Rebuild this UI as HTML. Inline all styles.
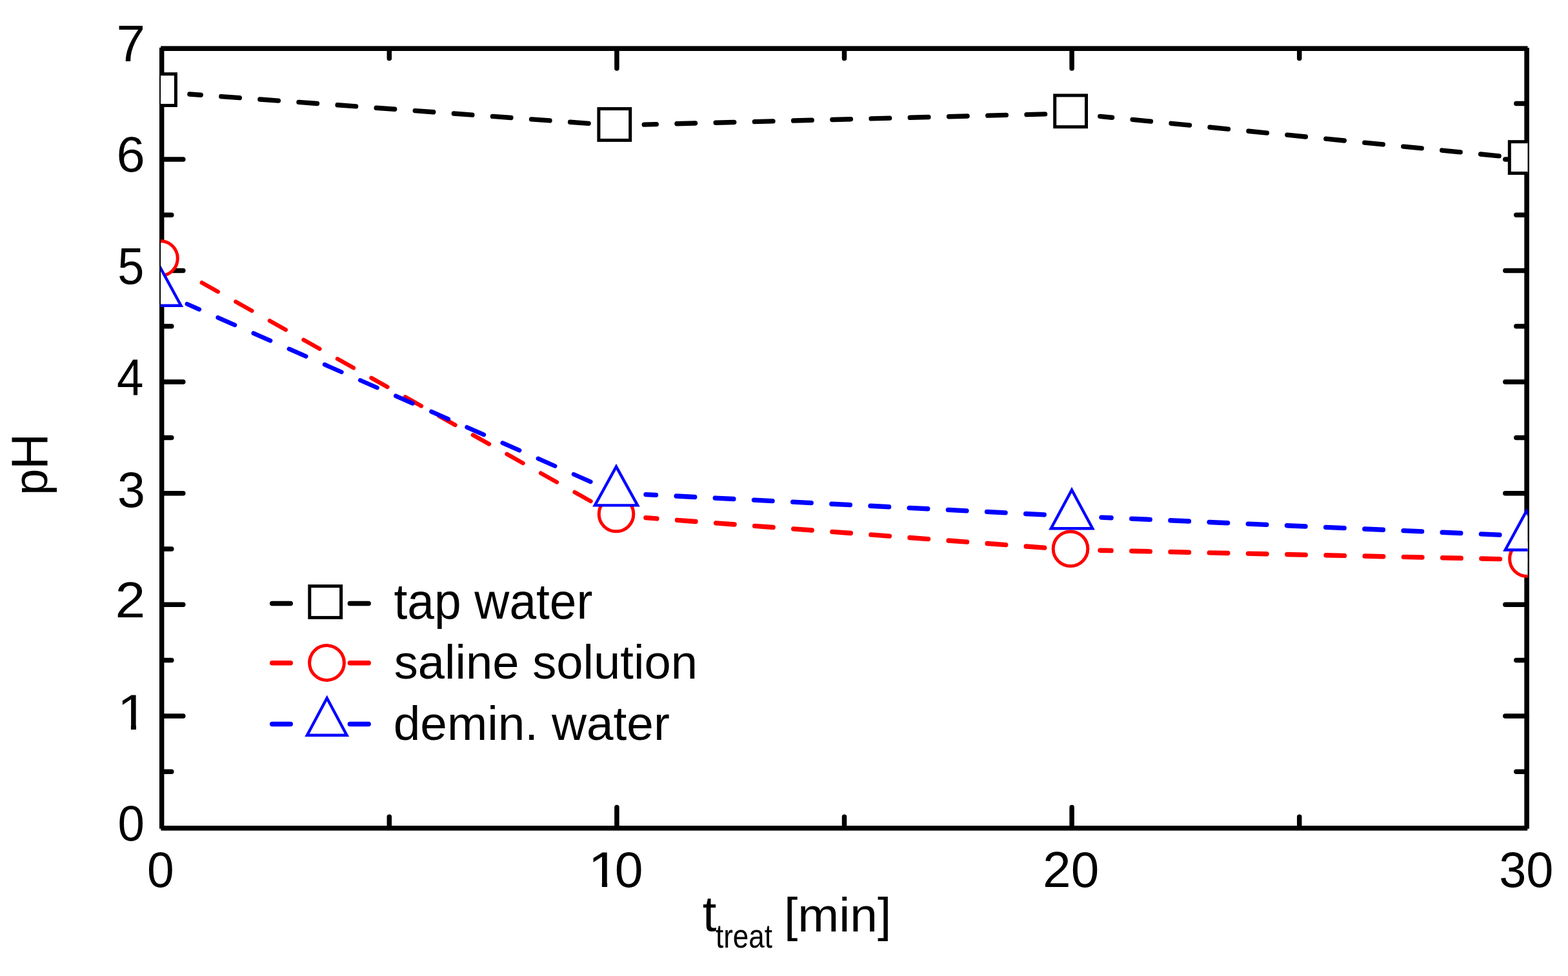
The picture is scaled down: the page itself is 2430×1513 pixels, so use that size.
<!DOCTYPE html><html><head><meta charset="utf-8"><title>pH vs treatment time</title><style>html,body{margin:0;padding:0;background:#fff;}svg{display:block;}text{font-family:"Liberation Sans", Arial, sans-serif;}</style></head><body>
<svg width="2430" height="1513" viewBox="0 0 2430 1513">
<rect x="0" y="0" width="2430" height="1513" fill="#fff"/>
<defs><clipPath id="pc"><rect x="249" y="73" width="2118.5" height="1213"/></clipPath></defs>
<g fill="#000">
<rect x="247" y="73.8" width="7.4" height="1210.9"/>
<rect x="2362.3" y="74" width="7.6" height="1210.7"/>
<rect x="249.2" y="71.4" width="2118.3" height="7.6"/>
<rect x="249.4" y="1280" width="2117.8" height="7.6"/>
</g>
<g stroke="#000" stroke-width="7.5" stroke-linecap="round"><line x1="252.00" y1="1196.20" x2="265.80" y2="1196.20"/><line x1="2366.00" y1="1196.20" x2="2349.80" y2="1196.20"/><line x1="252.00" y1="1109.90" x2="283.80" y2="1109.90"/><line x1="2366.00" y1="1109.90" x2="2332.80" y2="1109.90"/><line x1="252.00" y1="1023.60" x2="265.80" y2="1023.60"/><line x1="2366.00" y1="1023.60" x2="2349.80" y2="1023.60"/><line x1="252.00" y1="937.30" x2="283.80" y2="937.30"/><line x1="2366.00" y1="937.30" x2="2332.80" y2="937.30"/><line x1="252.00" y1="851.00" x2="265.80" y2="851.00"/><line x1="2366.00" y1="851.00" x2="2349.80" y2="851.00"/><line x1="252.00" y1="764.70" x2="283.80" y2="764.70"/><line x1="2366.00" y1="764.70" x2="2332.80" y2="764.70"/><line x1="252.00" y1="678.40" x2="265.80" y2="678.40"/><line x1="2366.00" y1="678.40" x2="2349.80" y2="678.40"/><line x1="252.00" y1="592.10" x2="283.80" y2="592.10"/><line x1="2366.00" y1="592.10" x2="2332.80" y2="592.10"/><line x1="252.00" y1="505.80" x2="265.80" y2="505.80"/><line x1="2366.00" y1="505.80" x2="2349.80" y2="505.80"/><line x1="252.00" y1="419.50" x2="283.80" y2="419.50"/><line x1="2366.00" y1="419.50" x2="2332.80" y2="419.50"/><line x1="252.00" y1="333.20" x2="265.80" y2="333.20"/><line x1="2366.00" y1="333.20" x2="2349.80" y2="333.20"/><line x1="252.00" y1="246.90" x2="283.80" y2="246.90"/><line x1="2366.00" y1="246.90" x2="2332.80" y2="246.90"/><line x1="252.00" y1="160.60" x2="265.80" y2="160.60"/><line x1="2366.00" y1="160.60" x2="2349.80" y2="160.60"/><line x1="603.30" y1="1282.00" x2="603.30" y2="1266.20"/><line x1="603.30" y1="77.00" x2="603.30" y2="90.60"/><line x1="955.90" y1="1282.00" x2="955.90" y2="1251.50"/><line x1="955.90" y1="77.00" x2="955.90" y2="106.00"/><line x1="1308.50" y1="1282.00" x2="1308.50" y2="1266.20"/><line x1="1308.50" y1="77.00" x2="1308.50" y2="90.60"/><line x1="1661.10" y1="1282.00" x2="1661.10" y2="1251.50"/><line x1="1661.10" y1="77.00" x2="1661.10" y2="106.00"/><line x1="2013.70" y1="1282.00" x2="2013.70" y2="1266.20"/><line x1="2013.70" y1="77.00" x2="2013.70" y2="90.60"/></g>
<g fill="#000">
<text transform="matrix(0.9944 0 0 1.0327 182.42 1302.90)" font-size="75">0</text>
<g transform="matrix(1.1328 0 0 1.0446 181.83 1131.40)"><clipPath id="c1_y1"><rect x="-20" y="-58.59" width="47.61" height="51.82"/><rect x="18.60" y="-7.32" width="7.14" height="12.32"/></clipPath><text clip-path="url(#c1_y1)" font-size="75">1</text></g>
<text transform="matrix(1.1206 0 0 1.0288 178.52 956.90)" font-size="75">2</text>
<text transform="matrix(1.0286 0 0 1.0308 182.01 785.70)" font-size="75">3</text>
<text transform="matrix(0.9947 0 0 1.0529 181.01 611.60)" font-size="75">4</text>
<text transform="matrix(0.9861 0 0 1.0569 182.34 439.80)" font-size="75">5</text>
<text transform="matrix(1.0588 0 0 1.0308 180.56 265.80)" font-size="75">6</text>
<text transform="matrix(1.0676 0 0 1.0549 180.43 94.60)" font-size="75">7</text>
<text transform="matrix(1.0000 0 0 1.0385 227.90 1375.00)" font-size="75">0</text>
<text transform="matrix(1.0447 0 0 1.0365 1616.12 1374.90)" font-size="75">20</text>
<text transform="matrix(1.0091 0 0 1.0365 2323.17 1374.90)" font-size="75">30</text>
<g transform="matrix(1.1547 0 0 1.0446 911.37 1374.90)"><clipPath id="c1_x10a"><rect x="-20" y="-58.59" width="47.61" height="51.82"/><rect x="18.60" y="-7.32" width="7.14" height="12.32"/></clipPath><text clip-path="url(#c1_x10a)" font-size="75">1</text></g>
<text transform="matrix(1.0500 0 0 1.0365 952.85 1374.90)" font-size="75">0</text>
<text transform="translate(73.40 767.71) rotate(-90) scale(0.9824 1.0000)" font-size="75">p</text>
<text transform="translate(73.00 727.70) rotate(-90) scale(1.0333 1.0588)" font-size="75">H</text>
<text transform="matrix(1.0368 0 0 1.0479 1088.66 1443.20)" font-size="75">t</text>
<text transform="matrix(0.9764 0 0 1.1483 1109.02 1469.30)" font-size="45">treat</text>
<text transform="matrix(1.0237 0 0 0.9942 1214.98 1443.89)" font-size="75">[min]</text>
<text transform="matrix(0.9984 0 0 1.0444 610.50 959.03)" font-size="75">tap water</text>
<text transform="matrix(0.9895 0 0 0.9963 610.72 1052.00)" font-size="75">saline solution</text>
<text transform="matrix(0.9972 0 0 0.9852 609.71 1146.50)" font-size="75">demin. water</text>
</g>
<g clip-path="url(#pc)" fill="none" stroke-width="7.5" stroke-linecap="round"><line x1="293.88" y1="145.97" x2="952.30" y2="194.30" stroke="#000" stroke-width="7.38" stroke-dasharray="28.6 31.65" stroke-dashoffset="11.20"/><line x1="998.28" y1="193.10" x2="1659.00" y2="175.80" stroke="#000" stroke-width="7.40" stroke-dasharray="28.6 31.65" stroke-dashoffset="9.60"/><line x1="1704.77" y1="180.35" x2="2364.00" y2="245.90" stroke="#000" stroke-width="7.36" stroke-dasharray="28.6 31.65" stroke-dashoffset="9.70"/><line x1="288.60" y1="424.54" x2="955.00" y2="799.20" stroke="#f00" stroke-width="6.45" stroke-dasharray="28.6 31.65" stroke-dashoffset="32.40"/><line x1="1000.87" y1="802.65" x2="1659.00" y2="852.20" stroke="#f00" stroke-width="7.38" stroke-dasharray="28.6 31.65" stroke-dashoffset="11.50"/><line x1="1704.99" y1="853.20" x2="2366.00" y2="867.50" stroke="#f00" stroke-width="7.40" stroke-dasharray="28.6 31.65" stroke-dashoffset="11.50"/><line x1="289.90" y1="471.25" x2="955.00" y2="764.30" stroke="#00f" stroke-width="6.77" stroke-dasharray="28.6 31.65" stroke-dashoffset="8.00"/><line x1="1000.94" y1="766.63" x2="1661.00" y2="800.10" stroke="#00f" stroke-width="7.39" stroke-dasharray="28.6 31.65" stroke-dashoffset="13.00"/><line x1="1706.96" y1="802.12" x2="2365.50" y2="831.00" stroke="#00f" stroke-width="7.39" stroke-dasharray="28.6 31.65" stroke-dashoffset="13.50"/></g>
<g clip-path="url(#pc)"><rect x="223.60" y="114.70" width="48.80" height="48.80" fill="#fff" stroke="#000" stroke-width="5.0"/><rect x="927.90" y="168.60" width="48.80" height="48.80" fill="#fff" stroke="#000" stroke-width="5.0"/><rect x="1634.70" y="147.90" width="48.80" height="48.80" fill="#fff" stroke="#000" stroke-width="5.0"/><rect x="2339.30" y="219.70" width="48.80" height="48.80" fill="#fff" stroke="#000" stroke-width="5.0"/><circle cx="248.50" cy="400.50" r="26.80" fill="#fff" stroke="#f00" stroke-width="5.0"/><circle cx="955.00" cy="797.00" r="26.80" fill="#fff" stroke="#f00" stroke-width="5.0"/><circle cx="1659.00" cy="850.80" r="26.80" fill="#fff" stroke="#f00" stroke-width="5.0"/><circle cx="2366.40" cy="866.50" r="26.80" fill="#fff" stroke="#f00" stroke-width="5.0"/><polygon points="247.80,413.80 280.49,473.80 215.11,473.80" fill="#fff" stroke="#00f" stroke-width="4.4" stroke-linejoin="miter" stroke-miterlimit="10"/><polygon points="955.00,723.40 988.09,783.40 921.91,783.40" fill="#fff" stroke="#00f" stroke-width="4.4" stroke-linejoin="miter" stroke-miterlimit="10"/><polygon points="1661.00,759.50 1693.19,819.30 1628.81,819.30" fill="#fff" stroke="#00f" stroke-width="4.4" stroke-linejoin="miter" stroke-miterlimit="10"/><polygon points="2365.50,792.40 2398.19,852.50 2332.81,852.50" fill="#fff" stroke="#00f" stroke-width="4.4" stroke-linejoin="miter" stroke-miterlimit="10"/></g>
<g stroke-width="7.5" stroke-linecap="round"><line x1="421.75" y1="935.5" x2="450.25" y2="935.5" stroke="#000"/><line x1="542.35" y1="935.5" x2="571.15" y2="935.5" stroke="#000"/><line x1="421.75" y1="1027.8" x2="450.25" y2="1027.8" stroke="#f00"/><line x1="542.35" y1="1027.8" x2="571.15" y2="1027.8" stroke="#f00"/><line x1="421.75" y1="1122.6" x2="450.25" y2="1122.6" stroke="#00f"/><line x1="542.35" y1="1122.6" x2="571.15" y2="1122.6" stroke="#00f"/></g>
<rect x="479.80" y="908.60" width="48.80" height="48.80" fill="#fff" stroke="#000" stroke-width="5.0"/>
<circle cx="506.50" cy="1027.50" r="26.90" fill="#fff" stroke="#f00" stroke-width="5.0"/>
<polygon points="506.70,1082.20 537.44,1139.70 475.96,1139.70" fill="#fff" stroke="#00f" stroke-width="4.4" stroke-linejoin="miter" stroke-miterlimit="10"/>
</svg></body></html>
